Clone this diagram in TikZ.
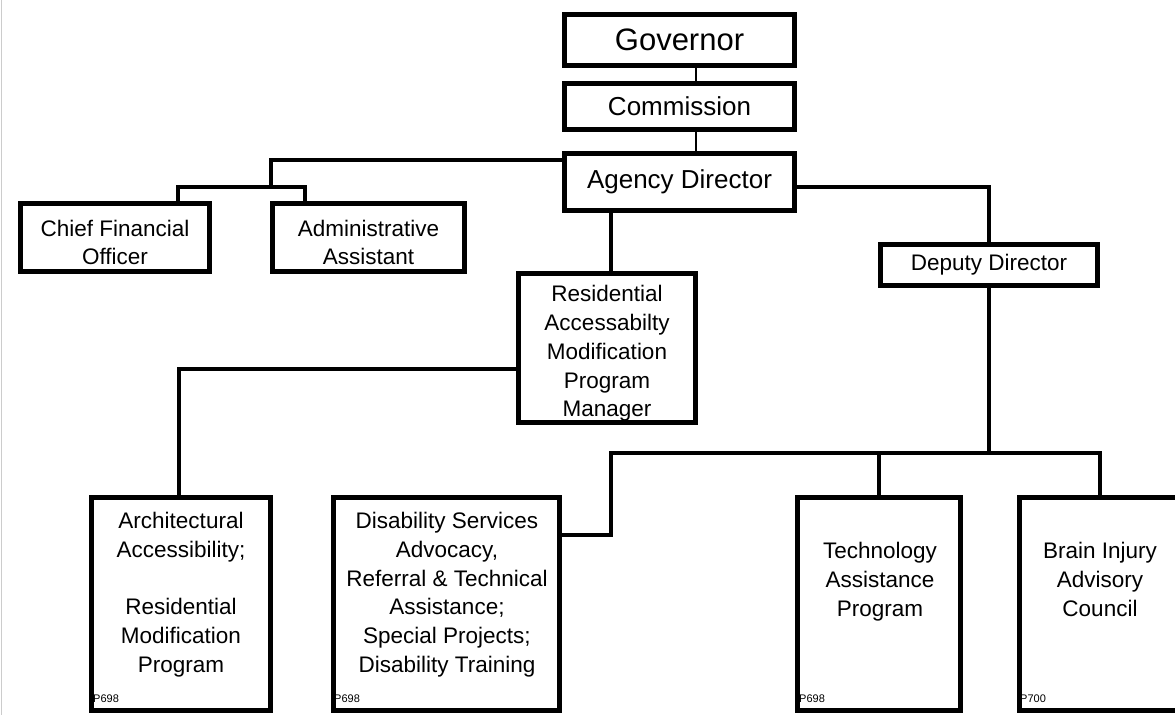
\documentclass[tikz,border=0pt]{standalone}
\usepackage{fontspec}
\setmainfont{Liberation Sans}
\usetikzlibrary{calc}

\begin{document}
\begin{tikzpicture}[x=1pt,y=-1pt,
		box/.style={draw=black,line width=5pt,inner sep=0pt,align=center,font=\fontsize{22.5}{28.8}\selectfont},
		txt/.style={font=\fontsize{22.5}{28.8}\selectfont,align=center,inner sep=0pt,anchor=north},
		code/.style={font=\fontsize{11}{11}\selectfont,inner sep=0pt,anchor=base west},
		wire/.style={line width=4pt},
		thin/.style={line width=1.5pt}]
			\useasboundingbox (0,0) rectangle (1175,715);
			\draw[black!20,line width=1pt] (1.5,0)--(1.5,715);
			% top of the chart
			\node (gov) [box,minimum width=230pt,minimum height=51pt,font=\fontsize{31}{31}\selectfont] at (679.5,40){Governor};
			\node (com) [box,minimum width=230pt,minimum height=46pt,font=\fontsize{26}{26}\selectfont] at (679.5,106.5){Commission};
			\node (ag) [box,minimum width=230pt,minimum height=57pt,font=\fontsize{26}{26}\selectfont] at (679.5,182){Agency Director};
			\node (cfo) [box,minimum width=189pt,minimum height=68pt] at (115,237.5){};
			\node (adm) [box,minimum width=192pt,minimum height=68pt] at (368.5,237.5){};
			\node (dep) [box,minimum width=217pt,minimum height=41pt] at (989,265){Deputy Director};
			\node (ram) [box,minimum width=177pt,minimum height=149pt] at (607,348){};
			\node (cfot) [txt,anchor=center] at (115,242.5){Chief Financial\\Officer};
			\node (admt) [txt,anchor=center] at (368.5,242.5){Administrative\\Assistant};
			\node (ramt) [txt,anchor=center] at (607,353.5){Residential\\Accessabilty\\Modification\\Program\\Manager};
			% bottom row
			\node (arch) [box,minimum width=179pt,minimum height=213pt] at (181,604){};
			\node (ds) [box,minimum width=226pt,minimum height=213pt] at (446.5,604){};
			\node (tap) [box,minimum width=163pt,minimum height=213pt] at (879,604){};
			\node (bic) [box,minimum width=161pt,minimum height=213pt] at (1100,604){};
			\node (archt) [txt] at (181,512){Architectural\\Accessibility;\\[28.8pt]Residential\\Modification\\Program};
			\node (dst) [txt] at (447,512){Disability Services\\Advocacy,\\Referral \& Technical\\Assistance;\\Special Projects;\\Disability Training};
			\node (tapt) [txt] at (880,542){Technology\\Assistance\\Program};
			\node (bict) [txt] at (1100,542){Brain Injury\\Advisory\\Council};
			\node (archp) [code] at (93,702){P698};
			\node (dsp) [code] at (334,702){P698};
			\node (tapp) [code] at (799,702){P698};
			\node (bicp) [code] at (1020,702){P700};
			\coordinate (split) at (271,187);
			\coordinate (bus) at (611,453);

			\draw[thin] ([xshift=16.5pt]gov.south)--([xshift=16.5pt]com.north);
			\draw[thin] ([xshift=16.5pt]com.south)--([xshift=16.5pt]ag.north);
			\draw[wire] ([yshift=22pt]ag.west)-|(split);
			\draw[wire] ([xshift=63pt]cfo.north)|-(split)-|([xshift=-63.5pt]adm.north);
			\draw[wire] ([yshift=-5pt]ag.east)-|(dep.north);
			\draw[wire] ([xshift=-68.5pt]ag.south)--([xshift=4pt]ram.north);
			\draw[wire] ([yshift=-21pt]ram.west)-|([xshift=-2.5pt]arch.north);
			\draw[wire] ([yshift=69pt]ds.east)-|(bus)-|(bic.north);
			\draw[wire] (dep.south)--(dep.south |- bus);
			\draw[wire] (tap.north)--(tap.north |- bus);
		\end{tikzpicture}
\end{document}
